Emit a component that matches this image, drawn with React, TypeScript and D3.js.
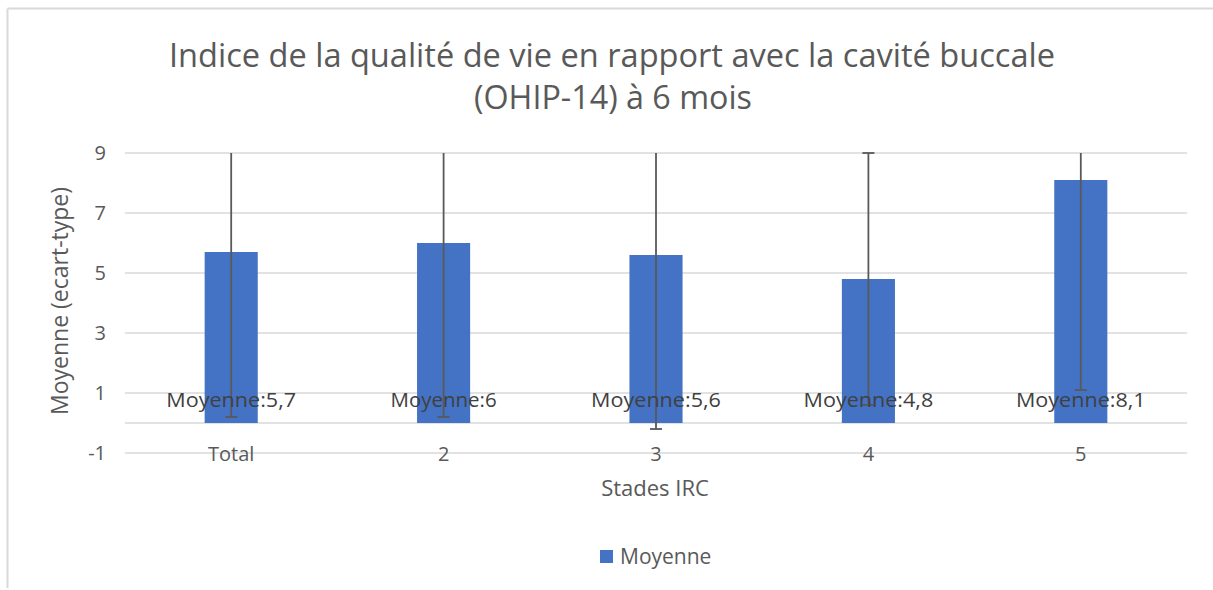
import React from 'react';
import * as d3 from 'd3';

const categories = ['Total', '2', '3', '4', '5'];
const means = [5.7, 6, 5.6, 4.8, 8.1];
const sds = [5.5, 5.8, 5.8, 4.2, 7.0];
const meanLabels = ['Moyenne:5,7', 'Moyenne:6', 'Moyenne:5,6', 'Moyenne:4,8', 'Moyenne:8,1'];
const yTicks = [-1, 1, 3, 5, 7, 9];

const W = 1213;
const H = 590;
const FONT = "'Open Sans', 'Liberation Sans', sans-serif";

const App = () => {
  const x = d3.scaleBand().domain(categories).range([125, 1187]).paddingInner(0.75).paddingOuter(0.375);
  const y = d3.scaleLinear().domain([-1, 9]).range([453, 153]);
  const bw = x.bandwidth();

  return (
    <svg width={W} height={H} style={{ position: 'absolute', left: 0, top: 0 }} fontFamily={FONT}>
      <rect x={0} y={0} width={W} height={H} fill="#fff" />
      {/* chart frame */}
      <line x1={7.5} y1={8.5} x2={W} y2={8.5} stroke="#d9d9d9" strokeWidth={2} />
      <line x1={7.5} y1={8.5} x2={7.5} y2={588} stroke="#d9d9d9" strokeWidth={2} />

      <text x={612} y={67} textAnchor="middle" fontSize={32} fill="#595959" textLength={886} lengthAdjust="spacingAndGlyphs">
        Indice de la qualité de vie en rapport avec la cavité buccale
      </text>
      <text x={613} y={109} textAnchor="middle" fontSize={32} fill="#595959" textLength={278} lengthAdjust="spacingAndGlyphs">
        (OHIP-14) à 6 mois
      </text>

      {/* gridlines */}
      {yTicks.map(t => (
        <g key={t}>
          <line x1={125} x2={1187} y1={y(t)} y2={y(t)} stroke="#d9d9d9" strokeWidth={1.5} />
          <text x={106} y={y(t)} dy="0.35em" textAnchor="end" fontSize={20} fill="#595959">{t}</text>
        </g>
      ))}
      <line x1={125} x2={1187} y1={y(0)} y2={y(0)} stroke="#d9d9d9" strokeWidth={1.5} />

      {/* bars */}
      {categories.map((c, i) => (
        <rect key={c} x={x(c)} y={y(means[i])} width={bw} height={y(0) - y(means[i])} fill="#4472c4" />
      ))}

      {/* error bars, clipped at the top of the axis */}
      {categories.map((c, i) => {
        const cx = (x(c) as number) + bw / 2;
        const hi = means[i] + sds[i];
        const lo = means[i] - sds[i];
        const top = y(Math.min(hi, 9));
        return (
          <g key={c} stroke="#595959" strokeWidth={1.8}>
            <line x1={cx} x2={cx} y1={top} y2={y(lo)} />
            <line x1={cx - 6} x2={cx + 6} y1={y(lo)} y2={y(lo)} />
            {hi <= 9.001 && <line x1={cx - 6} x2={cx + 6} y1={top} y2={top} />}
          </g>
        );
      })}

      {/* data labels */}
      {categories.map((c, i) => (
        <text key={c} x={(x(c) as number) + bw / 2} y={400} dy="0.35em" textAnchor="middle" fontSize={20} fill="#404040" textLength={meanLabels[i].length * 11.8} lengthAdjust="spacingAndGlyphs">
          {meanLabels[i]}
        </text>
      ))}

      {/* category labels */}
      {categories.map(c => (
        <text key={c} x={(x(c) as number) + bw / 2} y={454} dy="0.35em" textAnchor="middle" fontSize={20} fill="#595959">{c}</text>
      ))}

      <text x={655} y={488} dy="0.35em" textAnchor="middle" fontSize={22} fill="#595959">Stades IRC</text>
      <text transform={`translate(60,301) rotate(-90)`} dy="0.35em" textAnchor="middle" fontSize={23} fill="#595959">
        Moyenne (ecart-type)
      </text>

      {/* legend */}
      <rect x={600} y={550} width={13} height={13} fill="#4472c4" />
      <text x={620} y={557} dy="0.35em" fontSize={21} fill="#595959">Moyenne</text>
    </svg>
  );
};

export default App;
